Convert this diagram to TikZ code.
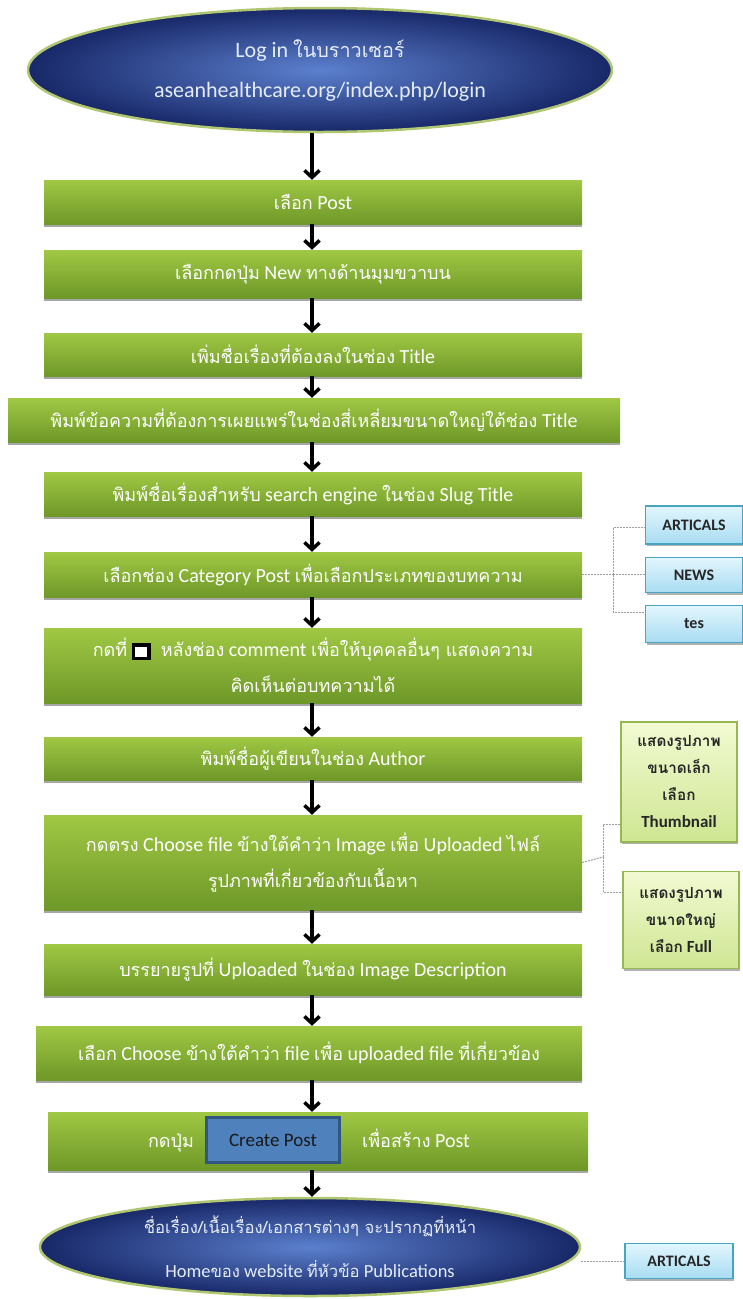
\documentclass[tikz,border=0pt]{standalone}
\usepackage{fontspec}
\setmainfont{Carlito}
\newfontfamily\thaifont[Script=Thai,Scale=0.9]{Loma}
\newcommand\thx[1]{{\thaifont #1}}
\usetikzlibrary{arrows.meta,shadows,shapes.geometric,calc}
\definecolor{gtop}{RGB}{160,200,68}
\definecolor{gbot}{RGB}{110,152,40}
\definecolor{navy}{RGB}{24,40,104}
\definecolor{navyin}{RGB}{92,128,206}
\definecolor{ellborder}{RGB}{176,198,112}
\definecolor{cyanfillA}{RGB}{226,246,253}
\definecolor{cyanfillB}{RGB}{168,220,242}
\definecolor{cyanedge}{RGB}{70,166,194}
\definecolor{lgfillA}{RGB}{242,250,210}
\definecolor{lgfillB}{RGB}{206,230,146}
\definecolor{lgedge}{RGB}{150,184,82}
\definecolor{btnfill}{RGB}{79,129,189}
\definecolor{btnedge}{RGB}{50,86,130}
\definecolor{elltext}{RGB}{228,236,248}
\tikzset{
  stepbox/.style={rectangle, top color=gtop, bottom color=gbot, draw=none,
    text=white, font=\fontsize{20}{36}\selectfont, align=center, inner sep=0pt,
    drop shadow={shadow xshift=0pt, shadow yshift=-3pt, opacity=0.35, fill=black}},
  endell/.style={ellipse, draw=ellborder, line width=2.5pt, inner color=navyin,
    outer color=navy, text=elltext, align=center, inner sep=0pt},
  flow/.style={-{Straight Barb[length=7pt,width=15pt]}, line width=3.5pt, black},
  optbox/.style={rectangle, top color=cyanfillA, bottom color=cyanfillB,
    draw=cyanedge, line width=1.2pt, text=black!85, inner sep=0pt,
    font=\bfseries\fontsize{16}{18}\selectfont,
    drop shadow={shadow xshift=1pt, shadow yshift=-2pt, opacity=0.3, fill=black}},
  imgbox/.style={rectangle, top color=lgfillA, bottom color=lgfillB,
    draw=lgedge, line width=1.2pt, text=black!85, inner sep=0pt, align=center,
    font=\bfseries\fontsize{17}{27}\selectfont,
    drop shadow={shadow xshift=1pt, shadow yshift=-2pt, opacity=0.3, fill=black}},
  dashline/.style={draw=gray!75, line width=1pt, dash pattern=on 2pt off 1pt},
  btn/.style={rectangle, fill=btnfill, draw=btnedge, line width=2.5pt,
    text=black!90, font=\fontsize{19}{22}\selectfont, inner sep=0pt},
  plain/.style={text=white, font=\fontsize{20}{22}\selectfont, inner sep=0pt, anchor=base}
}
\begin{document}
\begin{tikzpicture}[x=1pt,y=-1pt]
\useasboundingbox[fill=white] (0,0) rectangle (743,1299);
\coordinate (col) at (312,0);

\node[endell, minimum width=584pt, minimum height=124pt, font=\fontsize{22}{40}\selectfont] (start) at (320,70)
  {Log in \thx{ในบราวเซอร์}\\aseanhealthcare.org/index.php/login};

\node[stepbox, minimum width=538pt, minimum height=44pt] (b1) at (313,202) {\thx{เลือก} Post};
\node[stepbox, minimum width=538pt, minimum height=48pt] (b2) at (313,274) {\thx{เลือกกดปุ่ม} New \thx{ทางด้านมุมขวาบน}};
\node[stepbox, minimum width=538pt, minimum height=43pt] (b3) at (313,354.5) {\thx{เพิ่มชื่อเรื่องที่ต้องลงในช่อง} Title};
\node[stepbox, minimum width=612pt, minimum height=44pt] (b4) at (314,420) {\thx{พิมพ์ข้อความที่ต้องการเผยแพร่ในช่องสี่เหลี่ยมขนาดใหญ่ใต้ช่อง} Title};
\node[stepbox, minimum width=538pt, minimum height=44pt] (b5) at (313,494) {\thx{พิมพ์ชื่อเรื่องสำหรับ} search engine \thx{ในช่อง} Slug Title};
\node[stepbox, minimum width=538pt, minimum height=45pt] (b6) at (313,574.5) {\thx{เลือกช่อง} Category Post \thx{เพื่อเลือกประเภทของบทความ}};
\node[stepbox, minimum width=538pt, minimum height=75pt] (b7) at (313,665.5)
  {\thx{กดที่} {\setlength\fboxrule{3.5pt}\setlength\fboxsep{0pt}\fcolorbox{black}{white}{\rule{0pt}{10pt}\hspace{12pt}}}\hspace{10pt}\thx{หลังช่อง} comment \thx{เพื่อให้บุคคลอื่นๆ แสดงความ}\\\thx{คิดเห็นต่อบทความได้}};
\node[stepbox, minimum width=538pt, minimum height=43pt] (b8) at (313,758.5) {\thx{พิมพ์ชื่อผู้เขียนในช่อง} Author};
\node[stepbox, minimum width=538pt, minimum height=95pt] (b9) at (313,862.5)
  {\thx{กดตรง} Choose file \thx{ข้างใต้คำว่า} Image \thx{เพื่อ} Uploaded \thx{ไฟล์}\\\thx{รูปภาพที่เกี่ยวข้องกับเนื้อหา}};
\node[stepbox, minimum width=538pt, minimum height=51pt] (b10) at (313,969.5) {\thx{บรรยายรูปที่} Uploaded \thx{ในช่อง} Image Description};
\node[stepbox, minimum width=546pt, minimum height=54pt] (b11) at (309,1053) {\thx{เลือก} Choose \thx{ข้างใต้คำว่า} file \thx{เพื่อ} uploaded file \thx{ที่เกี่ยวข้อง}};
\node[stepbox, minimum width=540pt, minimum height=58pt] (b12) at (318,1141) {};
\node[plain] (b12a) at (171,1147) {\thx{กดปุ่ม}};
\node[btn, minimum width=133pt, minimum height=45pt] (create) at (273,1140) {Create Post};
\node[plain] (b12b) at (416,1147) {\thx{เพื่อสร้าง} Post};

\node[endell, minimum width=540pt, minimum height=98pt, font=\fontsize{18.5}{44}\selectfont] (finish) at (310,1247)
  {\thx{ชื่อเรื่อง/เนื้อเรื่อง/เอกสารต่างๆ จะปรากฏที่หน้า}\\Home\thx{ของ} website \thx{ที่หัวข้อ} Publications};

% main flow
\foreach \a/\b in {start/b1,b1/b2,b2/b3,b3/b4,b4/b5,b5/b6,b6/b7,b7/b8,b8/b9,b9/b10,b10/b11,b11/b12,b12/finish}
  \draw[flow] (col |- \a.south) -- (col |- \b.north);

% category options
\node[optbox, minimum width=97pt, minimum height=38pt] (art) at (694,525) {ARTICALS};
\node[optbox, minimum width=97pt, minimum height=35pt] (news) at (694,575) {NEWS};
\node[optbox, minimum width=97pt, minimum height=37pt] (tes) at (694,624) {tes};
\coordinate (j1) at (613,574.5);
\draw[dashline] (b6.east) -- (j1);
\draw[dashline] (j1) |- ([yshift=-2pt]art.west);
\draw[dashline] (j1) -- (j1 -| news.west);
\draw[dashline] (j1) |- ([yshift=12pt]tes.west);

% image options
\node[imgbox, minimum width=116pt, minimum height=120pt] (thumb) at (679,782)
  {\thx{แสดงรูปภาพ}\\\thx{ขนาดเล็ก}\\\thx{เลือก}\\Thumbnail};
\node[imgbox, minimum width=116pt, minimum height=97pt] (full) at (681,920)
  {\thx{แสดงรูปภาพ}\\\thx{ขนาดใหญ่}\\\thx{เลือก} Full};
\coordinate (j2) at (603,857);
\draw[dashline] (b9.east) -- (j2);
\draw[dashline] (j2) |- ([yshift=-42pt]thumb.west);
\draw[dashline] (j2) |- ([yshift=28pt]full.west);

% result option
\node[optbox, minimum width=108pt, minimum height=35pt] (art2) at (679,1261) {ARTICALS};
\draw[dashline] (finish.east |- art2.west) -- (art2.west);
\end{tikzpicture}
\end{document}
